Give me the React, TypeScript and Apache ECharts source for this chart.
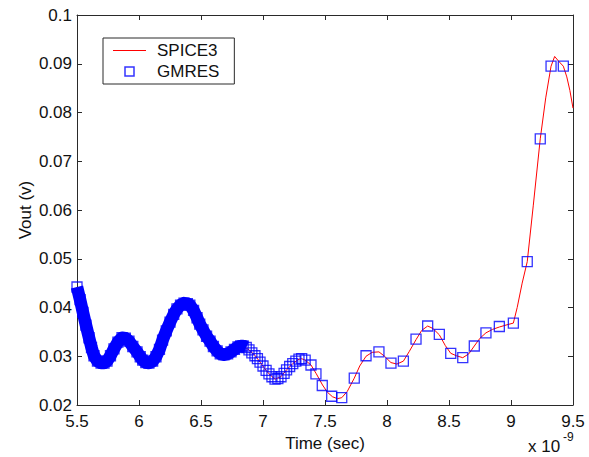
import React, { useEffect, useRef } from "react";
import * as echarts from "echarts";

// GMRES samples (time in ns, Vout in V)
const tGmres = [
  5.5, 5.525, 5.548, 5.572, 5.597, 5.617, 5.637, 5.665, 5.694, 5.718, 5.742, 5.77, 5.798, 5.83,
  5.863, 5.89, 5.919, 5.95, 5.984, 6.01, 6.03, 6.055, 6.08, 6.11, 6.137, 6.165, 6.19, 6.22,
  6.25, 6.28, 6.306, 6.335, 6.363, 6.39, 6.41, 6.44, 6.468, 6.49, 6.516, 6.545, 6.573, 6.6,
  6.63, 6.655, 6.685, 6.715, 6.742, 6.77, 6.798, 6.82, 6.84, 6.865, 6.887, 6.91, 6.935, 6.955,
  6.976, 7.0, 7.025, 7.048, 7.072, 7.097, 7.12, 7.145, 7.17, 7.19, 7.215, 7.24, 7.265, 7.29,
  7.312, 7.34, 7.387, 7.427, 7.478, 7.554, 7.635, 7.736, 7.831, 7.935, 8.032, 8.132, 8.234,
  8.328, 8.422, 8.514, 8.611, 8.704, 8.798, 8.906, 9.019, 9.131, 9.236, 9.323, 9.422,
];
const vGmres = [
  0.0442, 0.0416, 0.039, 0.0364, 0.0338, 0.0318, 0.0301, 0.029, 0.0286, 0.0286, 0.029, 0.0301,
  0.0315, 0.0329, 0.0338, 0.0337, 0.0331, 0.032, 0.0309, 0.0299, 0.0292, 0.0287, 0.0286, 0.029,
  0.0299, 0.0314, 0.0333, 0.0352, 0.037, 0.0386, 0.0397, 0.0405, 0.0409, 0.0408, 0.0405, 0.0394,
  0.0379, 0.0366, 0.0354, 0.0341, 0.0331, 0.032, 0.0311, 0.0305, 0.0303, 0.0305, 0.0309, 0.0314,
  0.0319, 0.0321, 0.0321, 0.0318, 0.0313, 0.0307, 0.0301, 0.0295, 0.0288, 0.028, 0.0271, 0.0264,
  0.0258, 0.0253, 0.0254, 0.0258, 0.0265, 0.0272, 0.0279, 0.0285, 0.029, 0.0294, 0.0295, 0.0292,
  0.0282, 0.0264, 0.024, 0.0218, 0.0215, 0.0255, 0.0301, 0.0309, 0.0286, 0.029, 0.0335, 0.0362,
  0.0345, 0.0306, 0.0297, 0.0321, 0.0348, 0.0361, 0.0368, 0.0494, 0.0746, 0.0895, 0.0895,
];

// SPICE3 reference waveform
const tSpice = [
  5.5, 5.548, 5.597, 5.637, 5.694, 5.742, 5.798, 5.863, 5.919, 5.984, 6.03, 6.08, 6.137, 6.19,
  6.25, 6.306, 6.363, 6.41, 6.468, 6.516, 6.573, 6.63, 6.685, 6.742, 6.798, 6.84, 6.887, 6.935,
  6.976, 7.025, 7.048, 7.097, 7.145, 7.19, 7.24, 7.29, 7.312, 7.34, 7.387, 7.43, 7.48, 7.52,
  7.56, 7.6, 7.635, 7.68, 7.736, 7.78, 7.831, 7.88, 7.935, 7.98, 8.032, 8.08, 8.132, 8.18,
  8.234, 8.28, 8.328, 8.37, 8.422, 8.47, 8.514, 8.56, 8.611, 8.66, 8.704, 8.75, 8.798, 8.85,
  8.906, 8.96, 9.019, 9.05, 9.09, 9.131, 9.18, 9.236, 9.28, 9.323, 9.352, 9.385, 9.422, 9.45,
  9.475, 9.5,
];
const vSpice = [
  0.0442, 0.039, 0.0338, 0.0301, 0.0286, 0.029, 0.0315, 0.0338, 0.0331, 0.0309, 0.0292, 0.0286,
  0.0299, 0.0333, 0.037, 0.0397, 0.0409, 0.0405, 0.0379, 0.0354, 0.0333, 0.0311, 0.0303, 0.0309,
  0.0319, 0.0321, 0.0313, 0.0302, 0.0288, 0.0271, 0.0264, 0.0253, 0.0258, 0.0272, 0.0285,
  0.0294, 0.0295, 0.0292, 0.0282, 0.0264, 0.0241, 0.0226, 0.0217, 0.0213, 0.0215, 0.0228,
  0.0255, 0.028, 0.03, 0.0308, 0.0309, 0.03, 0.0287, 0.0284, 0.029, 0.031, 0.0334, 0.0353,
  0.0362, 0.0357, 0.0344, 0.0322, 0.0306, 0.0301, 0.0297, 0.0305, 0.0321, 0.0337, 0.0348,
  0.0355, 0.036, 0.0364, 0.0368, 0.04, 0.045, 0.0494, 0.061, 0.0746, 0.083, 0.0895, 0.0915,
  0.0905, 0.0895, 0.0873, 0.0845, 0.0809,
];

const xTicks = ["5.5", "6", "6.5", "7", "7.5", "8", "8.5", "9", "9.5"];
const yTicks = ["0.02", "0.03", "0.04", "0.05", "0.06", "0.07", "0.08", "0.09", "0.1"];

const FONT = "'Liberation Sans', Arial, sans-serif";
const AXIS = "#2a2a2a";
const TEXT = "#111";

export default function App() {
  const ref = useRef<HTMLDivElement>(null);

  useEffect(() => {
    if (!ref.current) return;
    const chart = echarts.init(ref.current, undefined, { renderer: "svg" });

    const gmres = tGmres.map((t, i) => [t, vGmres[i]]);
    const band = gmres.filter((p) => p[0] <= 6.87);
    const spice = tSpice.map((t, i) => [t, vSpice[i]]);

    const xFmt = (v: number) => {
      const s = String(parseFloat(v.toFixed(1)));
      return xTicks.includes(s) ? s : "";
    };
    const yFmt = (v: number) => {
      const s = String(parseFloat(v.toFixed(2)));
      return yTicks.includes(s) ? s : "";
    };

    const baseAxis = {
      type: "value" as const,
      axisLine: { show: true, onZero: false, lineStyle: { color: AXIS, width: 1 } },
      axisTick: { show: true, inside: true, length: 5, lineStyle: { color: AXIS, width: 1 } },
      splitLine: { show: false },
    };

    chart.setOption({
      animation: false,
      backgroundColor: "#ffffff",
      textStyle: { fontFamily: FONT },
      grid: { left: 77, right: 16, top: 15, bottom: 52, containLabel: false },
      xAxis: [
        {
          ...baseAxis,
          position: "bottom",
          min: 5.5,
          max: 9.5,
          interval: 0.5,
          name: "Time (sec)",
          nameLocation: "middle",
          nameGap: 30,
          nameMoveOverlap: false,
          nameTextStyle: { fontSize: 17, color: TEXT, fontFamily: FONT },
          axisLabel: { fontSize: 17, color: TEXT, margin: 8, fontFamily: FONT, formatter: xFmt },
        },
        {
          ...baseAxis,
          position: "top",
          min: 5.5,
          max: 9.5,
          interval: 0.5,
          axisLabel: { show: false },
        },
      ],
      yAxis: [
        {
          ...baseAxis,
          position: "left",
          min: 0.02,
          max: 0.1,
          interval: 0.01,
          name: "Vout (v)",
          nameLocation: "middle",
          nameGap: 43,
          nameMoveOverlap: false,
          nameTextStyle: { fontSize: 17, color: TEXT, fontFamily: FONT },
          axisLabel: { fontSize: 17, color: TEXT, margin: 5, fontFamily: FONT, formatter: yFmt },
        },
        {
          ...baseAxis,
          position: "right",
          min: 0.02,
          max: 0.1,
          interval: 0.01,
          axisLabel: { show: false },
        },
      ],
      legend: {
        left: 103,
        top: 38,
        orient: "vertical",
        itemWidth: 33,
        itemHeight: 9,
        itemGap: 4,
        padding: [4, 15, 4, 10],
        borderColor: AXIS,
        borderWidth: 1,
        borderRadius: 0,
        backgroundColor: "#ffffff",
        symbolKeepAspect: true,
        textStyle: { fontSize: 17, color: TEXT, fontFamily: FONT, padding: [0, 0, 0, 6] },
        data: [
          {
            name: "SPICE3",
            icon: "path://M0,0H33V1H0Z",
            itemStyle: { color: "#ff0000", borderWidth: 0 },
          },
          {
            name: "GMRES",
            icon: "path://M0,0H10V10H0Z",
            itemStyle: { color: "rgba(0,0,0,0)", borderColor: "#0000ff", borderWidth: 1.5 },
          },
        ],
      },
      series: [
        {
          name: "SPICE3",
          type: "line",
          data: spice,
          symbol: "none",
          lineStyle: { color: "#ff0000", width: 1 },
          itemStyle: { color: "#ff0000" },
          z: 2,
        },
        {
          name: "GMRES band",
          type: "line",
          data: band,
          symbol: "none",
          silent: true,
          clip: false,
          lineStyle: { color: "#0000ff", width: 12.5, join: "round", cap: "butt" },
          z: 3,
        },
        {
          name: "GMRES",
          type: "scatter",
          data: gmres,
          symbol: "rect",
          symbolSize: 10,
          clip: false,
          itemStyle: { color: "rgba(0,0,0,0)", borderColor: "#0000ff", borderWidth: 1.3 },
          z: 4,
        },
      ],
      graphic: [
        {
          type: "text",
          left: 528,
          top: 438,
          style: { text: "x 10", fontSize: 17, fill: TEXT, fontFamily: FONT },
        },
        {
          type: "text",
          left: 563,
          top: 431,
          style: { text: "-9", fontSize: 12, fill: TEXT, fontFamily: FONT },
        },
      ],
    });

    return () => chart.dispose();
  }, []);

  return (
    <div
      ref={ref}
      style={{ position: "fixed", left: 0, top: 0, width: 589, height: 457, background: "#fff" }}
    />
  );
}
